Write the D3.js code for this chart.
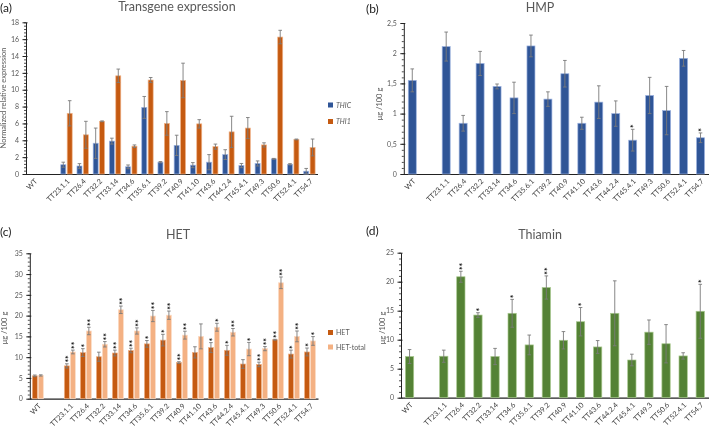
<!DOCTYPE html>
<html><head><meta charset="utf-8">
<script src="https://cdn.jsdelivr.net/npm/d3@7"></script>
<style>
body{margin:0;background:#fff}
svg{display:block;will-change:transform}
text{font-family:Lato,"Open Sans",sans-serif;-webkit-font-smoothing:antialiased}
</style>
</head><body><svg id="chart" width="709" height="428"></svg>
<script>
// ---------- DATA ----------
const lines = ["TT23.1.1","TT26.4","TT32.2","TT33.14","TT34.6","TT35.6.1","TT39.2","TT40.9","TT41.10","TT43.6","TT44.2.4","TT45.4.1","TT49.3","TT50.6","TT52.4.1","TT54.7"];
const categories = ["WT", ...lines];
const slots = ["WT", "gap", ...lines];

// (a) Transgene expression
const thicVals = [null, 1.1, 0.95, 3.65, 3.9, 0.85, 7.9, 1.4, 3.4, 1.05, 1.4, 2.3, 1.0, 1.25, 1.8, 1.15, 0.33];
const thicErr  = [null, 0.3, 0.28, 1.8, 0.35, 0.22, 1.3, 0.08, 1.2, 0.3, 0.9, 0.58, 0.25, 0.3, 0.05, 0.08, 0.33];
const thi1Vals = [null, 7.2, 4.65, 6.25, 11.65, 3.3, 11.15, 6.0, 11.1, 5.95, 3.25, 5.0, 5.45, 3.45, 16.25, 4.1, 3.15];
const thi1Err  = [null, 1.5, 1.6, 0.05, 0.8, 0.15, 0.3, 1.4, 2.05, 0.5, 0.3, 1.85, 1.25, 0.25, 0.8, 0.05, 1.0];
const aTicks = [0,2,4,6,8,10,12,14,16,18];

// (b) HMP
const hmpVals = [1.55, 2.11, 0.84, 1.83, 1.45, 1.26, 2.12, 1.24, 1.66, 0.84, 1.19, 1.0, 0.56, 1.3, 1.05, 1.915, 0.6];
const hmpErr  = [0.19, 0.24, 0.13, 0.2, 0.04, 0.26, 0.18, 0.12, 0.22, 0.1, 0.27, 0.21, 0.18, 0.3, 0.4, 0.13, 0.08];
const hmpSig  = ["","","","","","","","","","","","","*","","","","*"];
const bTicks = [0,0.5,1,1.5,2,2.5];

// (c) HET
const hetVals = [5.5, 7.9, 11.1, 10.1, 11.0, 11.6, 13.2, 14.1, 8.7, 11.15, 12.3, 11.65, 8.35, 8.25, 14.2, 10.75, 11.25];
const hetErr  = [0.2, 0.5, 0.95, 1.1, 0.7, 0.55, 0.8, 1.4, 0.2, 1.35, 1.2, 1.2, 1.05, 0.55, 0.1, 0.95, 0.95];
const hetSig  = ["","**","*","","**","**","*","*","**","","*","*","","**","**","*","*"];
const hetTotVals = [5.6, 11.25, 16.3, 13.1, 21.4, 16.3, 19.9, 20.1, 15.3, 15.0, 17.2, 16.0, 11.95, 12.05, 27.9, 15.0, 13.9];
const hetTotErr  = [0.15, 0.45, 0.9, 0.65, 0.9, 0.75, 1.35, 1.0, 0.95, 3.0, 0.95, 0.9, 1.6, 0.5, 1.4, 1.3, 1.05];
const hetTotSig  = ["","**","**","**","**","**","**","**","**","","*","**","*","**","**","**","*"];
const cTicks = [0,5,10,15,20,25,30,35];

// (d) Thiamin
const thiaVals = [7.1, 7.15, 20.85, 14.25, 7.1, 14.55, 9.1, 19.0, 9.9, 13.1, 8.75, 14.55, 6.5, 11.3, 9.3, 7.2, 14.9];
const thiaErr  = [1.2, 1.05, 0.95, 0.4, 1.4, 2.4, 1.7, 2.0, 1.5, 2.45, 1.1, 5.6, 1.0, 2.1, 3.3, 0.55, 4.65];
const thiaSig  = ["","","**","*","","*","","**","","*","","","","","","","*"];
const dTicks = [0,5,10,15,20,25];

// ---------- DRAW ----------
const svg = d3.select("#chart");
svg.append("rect").attr("width",709).attr("height",428).attr("fill","#fff");
const GREY = "#595959";

function drawPanel(p){
  const g = svg.append("g");
  const y = d3.scaleLinear().domain([0, p.max]).range([p.y0, p.yTop]);
  const x = d3.scaleBand().domain(slots).range([p.x0, p.x1]).padding(0);

  // minor ticks
  g.append("g").attr("transform",`translate(${p.x0},0)`)
    .call(d3.axisLeft(y).tickValues(d3.range(0, p.max + 1e-9, p.minor)).tickSize(2).tickFormat(""))
    .call(a => { a.select(".domain").remove(); a.selectAll("line").attr("stroke","#222").attr("stroke-width",0.8); });
  // major ticks
  g.append("g").attr("transform",`translate(${p.x0},0)`)
    .call(d3.axisLeft(y).tickValues(p.ticks).tickSize(3).tickSizeOuter(0).tickPadding(4).tickFormat(p.fmt))
    .call(a => {
      a.select(".domain").attr("stroke","#222");
      a.selectAll("line").attr("stroke","#222").attr("x2",-3.5).attr("x1",1.5);
      a.selectAll("text").attr("fill",GREY).style("font-size","7px");
    });
  // x axis
  g.append("g").attr("transform",`translate(0,${p.y0})`)
    .call(d3.axisBottom(x).tickSize(0).tickSizeOuter(0).tickFormat(d => d === "gap" ? "" : d))
    .call(a => {
      a.select(".domain").attr("stroke","#222").attr("stroke-width",1.2);
      a.selectAll("text").attr("fill","#404040").style("font-size","7.3px")
        .attr("x",0).attr("y",0).attr("dy","0.35em")
        .attr("transform","translate(2,6) rotate(-45)").style("text-anchor","end");
    });

  // bars
  p.series.forEach(s => {
    const data = categories.map((c,i) => ({c, v:s.vals[i], e:s.errs[i], sig: s.sig ? s.sig[i] : ""}))
      .filter(d => d.v != null);
    const cx = d => x(d.c) + x.bandwidth()/2 + s.offset;
    const sg = g.append("g");
    sg.selectAll("rect").data(data).join("rect")
      .attr("x", d => cx(d) - p.barW/2).attr("width", p.barW)
      .attr("y", d => y(d.v)).attr("height", d => y(0) - y(d.v))
      .attr("fill", s.color).attr("stroke", s.edge).attr("stroke-width",0.7);
    // error bars
    const eg = sg.append("g").attr("stroke","#7a7a7a").attr("stroke-width",0.9);
    eg.selectAll("line.v").data(data).join("line").attr("class","v")
      .attr("x1",cx).attr("x2",cx).attr("y1",d=>y(d.v - d.e)).attr("y2",d=>y(d.v + d.e));
    eg.selectAll("line.t").data(data).join("line").attr("class","t")
      .attr("x1",d=>cx(d)-1.8).attr("x2",d=>cx(d)+1.8).attr("y1",d=>y(d.v + d.e)).attr("y2",d=>y(d.v + d.e));
    eg.selectAll("line.b").data(data).join("line").attr("class","b")
      .attr("x1",d=>cx(d)-1.8).attr("x2",d=>cx(d)+1.8).attr("y1",d=>y(d.v - d.e)).attr("y2",d=>y(d.v - d.e));
    // significance stars: vertical text, asterisks stacked upward from the error cap
    const starData = data.filter(d => d.sig && d.sig.length);
    sg.selectAll("text.sig").data(starData).join("text").attr("class","sig")
      .attr("transform", d => `translate(${cx(d)},${y(d.v + d.e) - 1.2}) rotate(-90)`)
      .attr("x",0).attr("y",0).attr("dy","0.55em")
      .attr("text-anchor","start").attr("fill","#111")
      .style("font-size","8.5px").style("font-weight","bold")
      .text(d => d.sig);
  });

  // title, letter, y label
  svg.append("text").attr("x",p.titleX).attr("y",p.titleY).attr("text-anchor","middle")
    .attr("fill",GREY).style("font-size","12.5px").text(p.title);
  svg.append("text").attr("x",p.letterX).attr("y",p.letterY)
    .attr("fill","#222").style("font-size","12px").text(p.letter);
  svg.append("text").attr("transform",`translate(${p.ylX},${p.ylY}) rotate(-90)`)
    .attr("text-anchor","middle").attr("fill",GREY).style("font-size","7.5px").text(p.ylabel);

  // legend
  if (p.legend){
    p.legend.forEach((l,i) => {
      svg.append("rect").attr("x",p.legX).attr("y",p.legY + i*p.legGap - 2.5)
        .attr("width",5).attr("height",5).attr("fill",l.color);
      svg.append("text").attr("x",p.legX + 8).attr("y",p.legY + i*p.legGap + 2.5)
        .attr("fill",GREY).style("font-size","7px").style("font-style", l.italic ? "italic" : "normal").text(l.name);
    });
  }
}

const commaFmt = d => String(d).replace(".", ",");

drawPanel({x0:26, x1:317.5, y0:174, yTop:22.3, max:18, ticks:aTicks, minor:0.4, fmt:d=>d,
  barW:5, series:[
    {vals:thicVals, errs:thicErr, color:"#2f5597", edge:"#9db3e0", offset:-3.2},
    {vals:thi1Vals, errs:thi1Err, color:"#c55a11", edge:"#f0b48a", offset:3.2}],
  title:"Transgene expression", titleX:177, titleY:11, letter:"(a)", letterX:0, letterY:11.5,
  ylabel:"Normalized relative expression", ylX:5.5, ylY:98,
  legend:[{name:"THIC", color:"#2f5597", italic:true},{name:"THI1", color:"#c55a11", italic:true}],
  legX:328, legY:105, legGap:16.5});

drawPanel({x0:403.8, x1:709, y0:174, yTop:23, max:2.5, ticks:bTicks, minor:0.1, fmt:commaFmt,
  barW:8, series:[{vals:hmpVals, errs:hmpErr, sig:hmpSig, color:"#2f5597", edge:"#9db3e0", offset:0}],
  title:"HMP", titleX:540, titleY:12, letter:"(b)", letterX:366, letterY:13,
  ylabel:"μg /100 g", ylX:382, ylY:104});

drawPanel({x0:29.8, x1:318, y0:398.7, yTop:253.3, max:35, ticks:cTicks, minor:1, fmt:d=>d,
  barW:5, series:[
    {vals:hetVals, errs:hetErr, sig:hetSig, color:"#c55a11", edge:"#f0b48a", offset:-3},
    {vals:hetTotVals, errs:hetTotErr, sig:hetTotSig, color:"#f4b183", edge:"#fbdcc6", offset:3}],
  title:"HET", titleX:178, titleY:239, letter:"(c)", letterX:0, letterY:236,
  ylabel:"μg /100 g", ylX:7, ylY:328,
  legend:[{name:"HET", color:"#c55a11"},{name:"HET-total", color:"#f4b183"}],
  legX:328, legY:332.5, legGap:14.5});

drawPanel({x0:401, x1:708.8, y0:397.7, yTop:252.7, max:25, ticks:dTicks, minor:1, fmt:d=>d,
  barW:8.3, series:[{vals:thiaVals, errs:thiaErr, sig:thiaSig, color:"#548235", edge:"#a9c98f", offset:0}],
  title:"Thiamin", titleX:540, titleY:239, letter:"(d)", letterX:366, letterY:235,
  ylabel:"μg /100 g", ylX:385, ylY:328});
</script>
</body></html>
